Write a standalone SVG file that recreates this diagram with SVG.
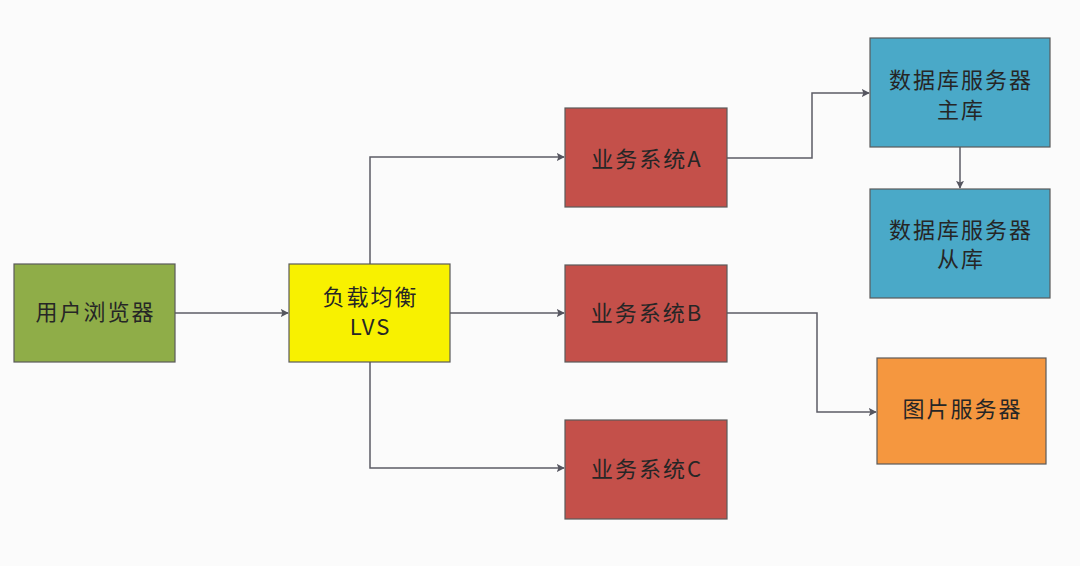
<svg xmlns="http://www.w3.org/2000/svg" width="1080" height="566" viewBox="0 0 1080 566">
<defs>
<style>
.n{stroke:#5a5a5a;stroke-width:1.2}
.t{font-family:"Noto Sans CJK SC","Liberation Sans",sans-serif;font-size:22px;letter-spacing:2px;fill:#262626;text-anchor:middle}
.c{fill:none;stroke:#5c5c66;stroke-width:1.5}
</style>
<marker id="ah" viewBox="0 0 10 10" refX="9" refY="5" markerWidth="8" markerHeight="8" markerUnits="userSpaceOnUse" orient="auto">
<path d="M0,0 L10,5 L0,10 L2,5 Z" fill="#55555f"/>
</marker>
</defs>
<rect width="1080" height="566" fill="#fbfbfb"/>
<g id="connectors">
<path class="c" d="M175,313 H288" marker-end="url(#ah)"/>
<path class="c" d="M450,313 H564" marker-end="url(#ah)"/>
<path class="c" d="M370,264 V157 H564" marker-end="url(#ah)"/>
<path class="c" d="M370,362 V468 H564" marker-end="url(#ah)"/>
<path class="c" d="M727,158 H812 V93 H869" marker-end="url(#ah)"/>
<path class="c" d="M960,147 V188" marker-end="url(#ah)"/>
<path class="c" d="M727,313 H817 V412 H876" marker-end="url(#ah)"/>
</g>
<g id="browser">
<rect class="n" x="14" y="264" width="161" height="98" fill="#8fad48"/>
<text class="t" x="95.5" y="320">用户浏览器</text>
</g>
<g id="lvs">
<rect class="n" x="289" y="264" width="161" height="98" fill="#f8f100"/>
<text class="t" x="370.5" y="305">负载均衡</text>
<text class="t" x="370.5" y="335">LVS</text>
</g>
<g id="sysA">
<rect class="n" x="565" y="108" width="162" height="99" fill="#c4504a"/>
<text class="t" x="647" y="167">业务系统A</text>
</g>
<g id="sysB">
<rect class="n" x="565" y="265" width="162" height="97" fill="#c4504a"/>
<text class="t" x="647" y="321">业务系统B</text>
</g>
<g id="sysC">
<rect class="n" x="565" y="420" width="162" height="99" fill="#c4504a"/>
<text class="t" x="647" y="477">业务系统C</text>
</g>
<g id="dbMaster">
<rect class="n" x="870" y="38" width="180" height="109" fill="#4aa9c8"/>
<text class="t" x="961" y="88">数据库服务器</text>
<text class="t" x="961" y="118">主库</text>
</g>
<g id="dbSlave">
<rect class="n" x="870" y="189" width="180" height="109" fill="#4aa9c8"/>
<text class="t" x="961" y="238">数据库服务器</text>
<text class="t" x="961" y="267">从库</text>
</g>
<g id="imgServer">
<rect class="n" x="877" y="358" width="169" height="106" fill="#f5973f"/>
<text class="t" x="962.5" y="417">图片服务器</text>
</g>
</svg>
